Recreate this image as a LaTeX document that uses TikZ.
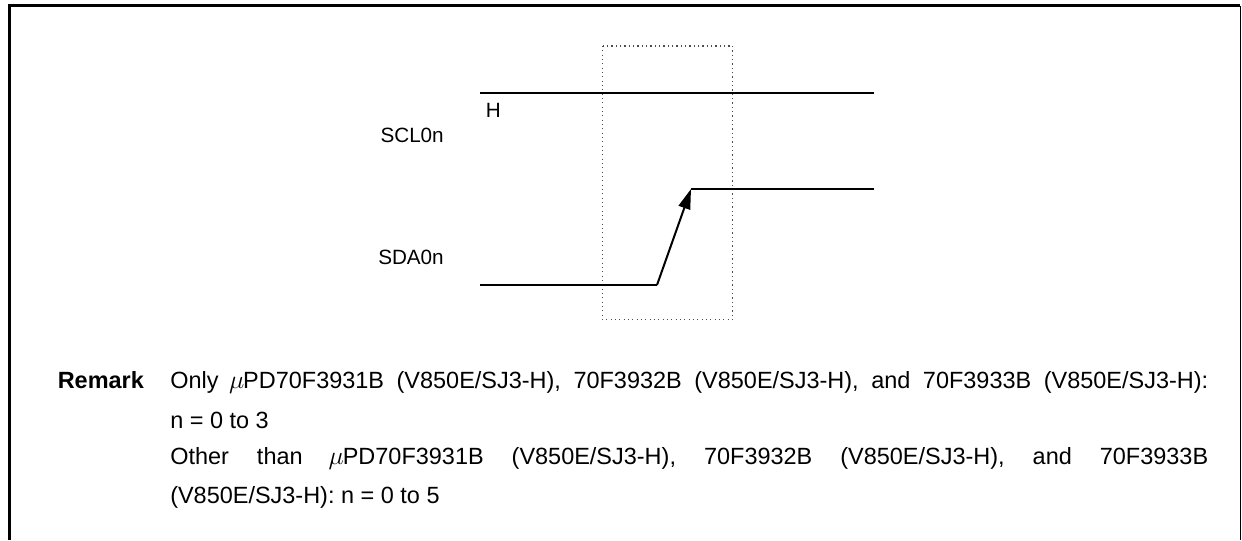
\documentclass[tikz,border=0pt]{standalone}
\usepackage{fontspec}
\setmainfont{Liberation Sans}
\usetikzlibrary{arrows.meta}
\tikzset{
  wave/.style={line width=1.5pt,line cap=butt,line join=miter},
  dotbox/.style={line width=0.85pt,dash pattern=on 0.85pt off 2.4pt,black!70},
  lbl/.style={inner sep=0pt,font=\fontsize{15.5pt}{18pt}\selectfont,anchor=base west},
  lblr/.style={inner sep=0pt,font=\fontsize{15.5pt}{18pt}\selectfont,anchor=base east},
  body/.style={inner sep=0pt,font=\fontsize{17.6pt}{20pt}\selectfont,anchor=base west},
}
\newcommand{\muinline}{\kern-1.5pt\scalebox{1.12}{$\mu$}\kern-0.8pt}
\begin{document}
\begin{tikzpicture}[x=0.75pt,y=-0.75pt]
\useasboundingbox (0,0) rectangle (1242,540);
% frame, open at the bottom
\coordinate (fbl) at (9.5,540);
\coordinate (ftl) at (9.5,5.5);
\coordinate (ftr) at (1240,5.5);
\coordinate (fbr) at (1240,540);
\draw[line width=1.9pt] (fbl) -- (ftl) -- (1240.4,5.5);
\draw[line width=0.75pt] (ftr) -- (fbr);
% dotted window
\coordinate (w1) at (602.3,46);
\coordinate (w2) at (732.7,319.4);
\draw[dotbox] (w1) rectangle (w2);
% waveforms
\coordinate (sclA) at (480,92.8);
\coordinate (sclB) at (874,92.8);
\coordinate (sdaA) at (480,285);
\coordinate (sdaB) at (657,285);
\coordinate (sdaC) at (691,189);
\coordinate (sdaD) at (874,189);
\draw[wave] (sclA) -- (sclB);
\draw[wave] (sdaA) -- (sdaB);
\draw[wave] (sdaC) -- (sdaD);
\draw[wave,-{Triangle[length=15pt,width=9pt]}] (sdaB) -- (sdaC);
% labels
\node[lbl] (h) at (485.5,117) {H};
\node[lblr] (scl) at (444,142) {SCL0n};
\node[lblr] (sda) at (444,264) {SDA0n};
% remark
\node[body,font=\fontsize{17.6pt}{20pt}\selectfont\bfseries] (rem) at (57.5,388) {Remark};
\node[body] (l1) at (170,388) {\makebox[778.5pt][s]{Only \muinline PD70F3931B (V850E/SJ3-H), 70F3932B (V850E/SJ3-H), and 70F3933B (V850E/SJ3-H):}};
\node[body] (l2) at (170,428) {n = 0 to 3};
\node[body] (l3) at (170,464) {\makebox[778.5pt][s]{Other than \muinline PD70F3931B (V850E/SJ3-H), 70F3932B (V850E/SJ3-H), and 70F3933B}};
\node[body] (l4) at (170,503) {(V850E/SJ3-H): n = 0 to 5};
\end{tikzpicture}
\end{document}
